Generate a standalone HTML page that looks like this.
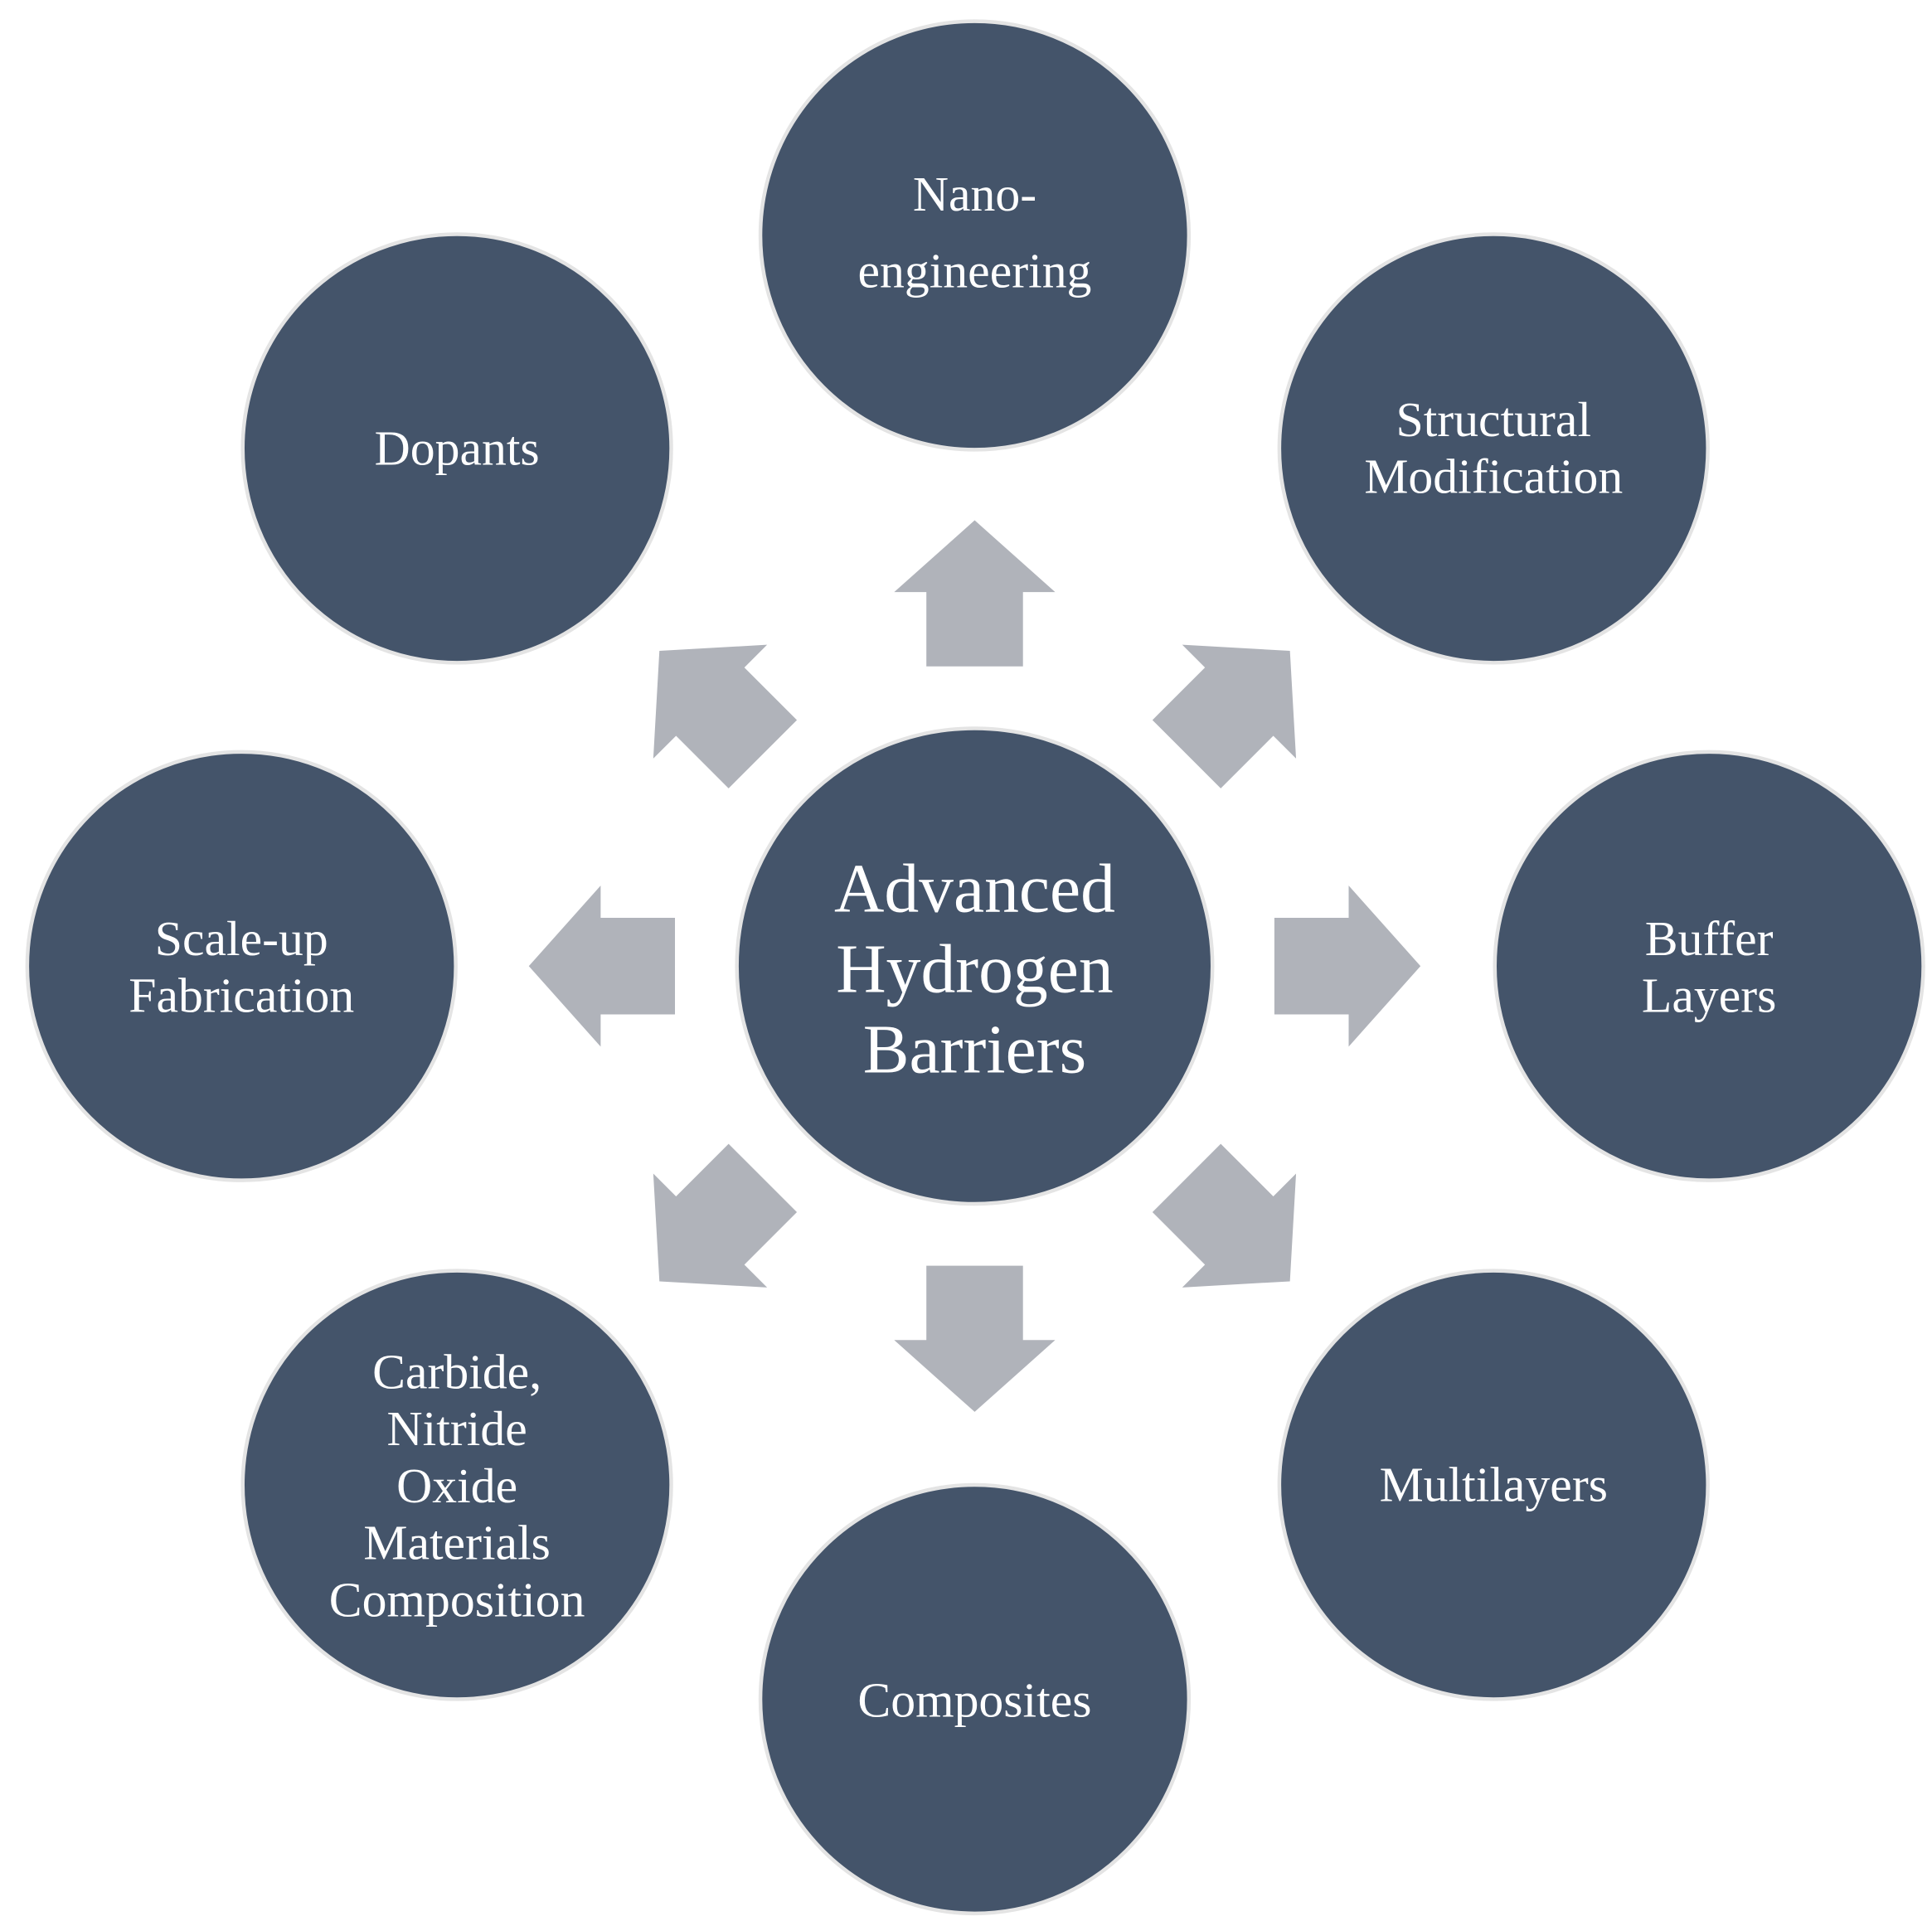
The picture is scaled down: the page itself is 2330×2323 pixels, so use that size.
<!DOCTYPE html>
<html><head><meta charset="utf-8"><style>
html,body{margin:0;padding:0;background:#fff;}
svg{display:block;}
text{font-family:"Liberation Serif",serif;fill:#fff;text-anchor:middle;}
</style></head><body>
<svg width="2330" height="2323" viewBox="0 0 1560 1555" xmlns="http://www.w3.org/2000/svg">
<defs>
<polygon id="ar" points="0,-59 65,-1 39,-1 39,59 -39,59 -39,-1 -65,-1" fill="#B0B3BA"/>
</defs>
<g transform="translate(787,780)">
<use href="#ar" transform="rotate(0) translate(0,-301)"/>
<use href="#ar" transform="rotate(45) translate(0,-301)"/>
<use href="#ar" transform="rotate(90) translate(0,-301)"/>
<use href="#ar" transform="rotate(135) translate(0,-301)"/>
<use href="#ar" transform="rotate(180) translate(0,-301)"/>
<use href="#ar" transform="rotate(225) translate(0,-301)"/>
<use href="#ar" transform="rotate(270) translate(0,-301)"/>
<use href="#ar" transform="rotate(315) translate(0,-301)"/>
</g>
<g fill="#44546A" stroke="#E4E4E4" stroke-width="3">
<circle cx="787" cy="780" r="192"/>
<circle cx="787" cy="190" r="173"/>
<circle cx="1206" cy="362" r="173"/>
<circle cx="1380" cy="780" r="173"/>
<circle cx="1206" cy="1199" r="173"/>
<circle cx="787" cy="1372" r="173"/>
<circle cx="369" cy="1199" r="173"/>
<circle cx="195" cy="780" r="173"/>
<circle cx="369" cy="362" r="173"/>
</g>
<g font-size="56">
<text x="787" y="736">Advanced</text>
<text x="787" y="801">Hydrogen</text>
<text x="787" y="866">Barriers</text>
</g>
<g font-size="40">
<text x="787" y="170">Nano-</text>
<text x="787" y="232">engineering</text>
<text x="1206" y="352">Structural</text>
<text x="1206" y="398">Modification</text>
<text x="1380" y="771">Buffer</text>
<text x="1380" y="817">Layers</text>
<text x="1206" y="1212">Multilayers</text>
<text x="787" y="1386">Composites</text>
<text x="369" y="1121">Carbide,</text>
<text x="369" y="1167">Nitride</text>
<text x="369" y="1213">Oxide</text>
<text x="369" y="1259">Materials</text>
<text x="369" y="1305">Composition</text>
<text x="195" y="771">Scale-up</text>
<text x="195" y="817">Fabrication</text>
<text x="369" y="375">Dopants</text>
</g>
</svg>
</body></html>
